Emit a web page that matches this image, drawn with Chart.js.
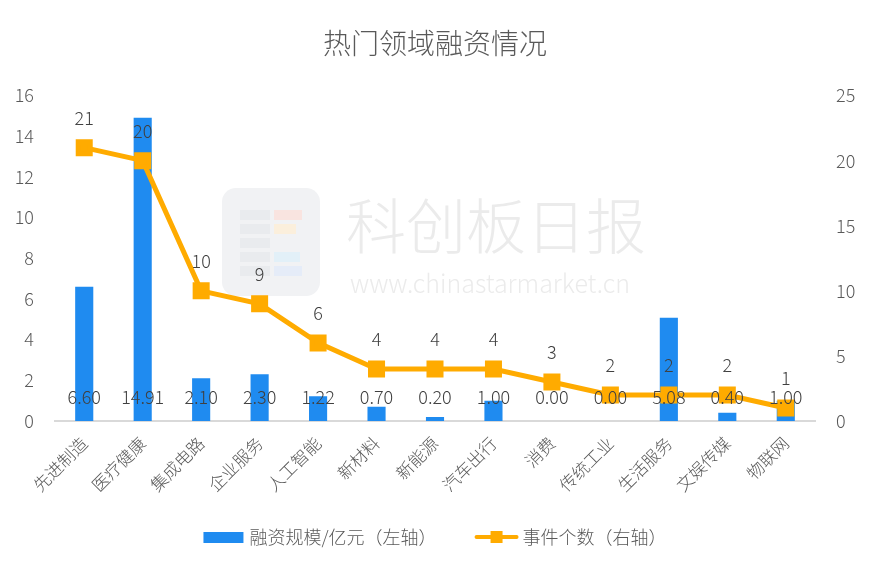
<!DOCTYPE html>
<html>
<head>
<meta charset="utf-8">
<script src="https://cdn.jsdelivr.net/npm/chart.js@4.4.0/dist/chart.umd.min.js"></script>
<style>
  html, body { margin: 0; padding: 0; background: #fff; }
  #wrap { width: 870px; height: 570px; }
</style>
</head>
<body>
<div id="wrap"><canvas id="combo"></canvas></div>
<script>
var categories = ['先进制造', '医疗健康', '集成电路', '企业服务', '人工智能', '新材料', '新能源', '汽车出行', '消费', '传统工业', '生活服务', '文娱传媒', '物联网'];
var amountLabels = ['6.60', '14.91', '2.10', '2.30', '1.22', '0.70', '0.20', '1.00', '0.00', '0.00', '5.08', '0.40', '1.00'];
var amounts = [6.6, 14.91, 2.1, 2.3, 1.22, 0.7, 0.2, 1.0, 0.0, 0.0, 5.08, 0.4, 1.0];
var eventCounts = [21, 20, 10, 9, 6, 4, 4, 4, 3, 2, 2, 2, 1];
var seriesNames = ['融资规模/亿元（左轴）', '事件个数（右轴）'];

var FONT = '"Noto Sans CJK SC", "Noto Sans", sans-serif';
var BLUE = '#1F8BF0';
var ORANGE = '#FFAB00';
var TEXT = '#595959';

// faint watermark behind the data
var watermark = {
	id: 'watermark',
	beforeDatasetsDraw: function(chart) {
		var ctx = chart.ctx;
		ctx.save();
		ctx.fillStyle = '#f1f2f4';
		ctx.beginPath();
		if (ctx.roundRect) ctx.roundRect(222, 188, 98, 108, 14); else ctx.rect(222, 188, 98, 108);
		ctx.fill();
		ctx.fillStyle = '#e9ebee';
		ctx.fillRect(240, 210, 30, 10); ctx.fillRect(240, 224, 30, 10);
		ctx.fillRect(240, 238, 30, 10); ctx.fillRect(240, 252, 30, 10);
		ctx.fillRect(240, 266, 30, 10);
		ctx.fillStyle = '#f9e4e0'; ctx.fillRect(274, 210, 28, 10);
		ctx.fillStyle = '#fbefdc'; ctx.fillRect(274, 224, 22, 10);
		ctx.fillStyle = '#e2f0f8'; ctx.fillRect(274, 252, 26, 10);
		ctx.fillStyle = '#e5ecf8'; ctx.fillRect(274, 266, 28, 10);
		ctx.fillStyle = '#ebebeb';
		ctx.textAlign = 'left';
		ctx.textBaseline = 'middle';
		ctx.font = '300 60px ' + FONT;
		ctx.fillText('科创板日报', 346, 226);
		ctx.font = '300 25px ' + FONT;
		ctx.fillText('www.chinastarmarket.cn', 350, 283);
		ctx.restore();
	}
};

// value labels: bars near the base, line above the points
var valueLabels = {
	id: 'valueLabels',
	afterDatasetsDraw: function(chart) {
		var ctx = chart.ctx;
		ctx.save();
		ctx.fillStyle = '#404040';
		ctx.textAlign = 'center';
		ctx.textBaseline = 'middle';
		ctx.font = '300 18px ' + FONT;
		var yL = chart.scales.yL;
		chart.getDatasetMeta(0).data.forEach(function(el, i){
			ctx.fillText(amountLabels[i], el.x, yL.getPixelForValue(0) - 24);
		});
		chart.getDatasetMeta(1).data.forEach(function(el, i){
			ctx.fillText(String(eventCounts[i]), el.x, el.y - 30);
		});
		ctx.restore();
	}
};

// legend drawn by hand so the icons look like the original
var bottomLegend = {
	id: 'bottomLegend',
	afterDraw: function(chart) {
		var ctx = chart.ctx;
		ctx.save();
		ctx.font = '300 18px ' + FONT;
		ctx.textBaseline = 'middle';
		ctx.textAlign = 'left';
		var w0 = ctx.measureText(seriesNames[0]).width;
		var w1 = ctx.measureText(seriesNames[1]).width;
		var total = 40 + 6 + w0 + 38 + 44 + 4 + w1;
		var x = (chart.width - total) / 2;
		var y = chart.height - 33;
		ctx.fillStyle = BLUE;
		ctx.fillRect(x, y - 5, 40, 11);
		ctx.fillStyle = TEXT;
		ctx.fillText(seriesNames[0], x + 46, y);
		x += 46 + w0 + 38;
		ctx.strokeStyle = ORANGE;
		ctx.lineWidth = 4;
		ctx.lineCap = 'round';
		ctx.beginPath(); ctx.moveTo(x + 2, y); ctx.lineTo(x + 42, y); ctx.stroke();
		ctx.fillStyle = ORANGE;
		ctx.fillRect(x + 16, y - 6, 12, 12);
		ctx.fillStyle = TEXT;
		ctx.fillText(seriesNames[1], x + 48, y);
		ctx.restore();
	}
};

var ctx = document.getElementById('combo').getContext('2d');
var combo = new Chart(ctx, {
	type: 'bar',
	data: {
		labels: categories,
		datasets: [{
			type: 'bar',
			label: seriesNames[0],
			data: amounts,
			yAxisID: 'yL',
			backgroundColor: BLUE,
			barPercentage: 0.62,
			categoryPercentage: 0.5,
			order: 1
		}, {
			type: 'line',
			label: seriesNames[1],
			data: eventCounts,
			yAxisID: 'yR',
			borderColor: ORANGE,
			backgroundColor: ORANGE,
			borderWidth: 5,
			pointStyle: 'rect',
			pointRadius: 8.5,
			pointHoverRadius: 8.5,
			tension: 0,
			order: 0
		}]
	},
	options: {
		responsive: true,
		maintainAspectRatio: false,
		animation: false,
		events: [],
		layout: { padding: { top: 10, bottom: 50, left: 0, right: 0 } },
		plugins: {
			title: {
				display: true,
				text: '热门领域融资情况',
				color: TEXT,
				font: { family: FONT, size: 28, weight: '300' },
				padding: { top: 17, bottom: 35 }
			},
			legend: { display: false },
			tooltip: { enabled: false }
		},
		scales: {
			x: {
				grid: { display: false },
				border: { display: true, color: '#d9d9d9', width: 2 },
				ticks: {
					color: TEXT,
					font: { family: FONT, size: 17, weight: '300' },
					minRotation: 45,
					maxRotation: 45,
					padding: 4
				},
				afterFit: function(s){ s.height = 99; }
			},
			yL: {
				position: 'left',
				min: 0, max: 16,
				grid: { display: false },
				border: { display: false },
				ticks: { stepSize: 2, color: TEXT, font: { family: FONT, size: 18, weight: '300' }, padding: 13 },
				afterFit: function(s){ s.width = 55; }
			},
			yR: {
				position: 'right',
				min: 0, max: 25,
				grid: { display: false },
				border: { display: false },
				ticks: { stepSize: 5, color: TEXT, font: { family: FONT, size: 18, weight: '300' }, padding: 13 },
				afterFit: function(s){ s.width = 55; }
			}
		}
	},
	plugins: [watermark, valueLabels, bottomLegend]
});
</script>
</body>
</html>
